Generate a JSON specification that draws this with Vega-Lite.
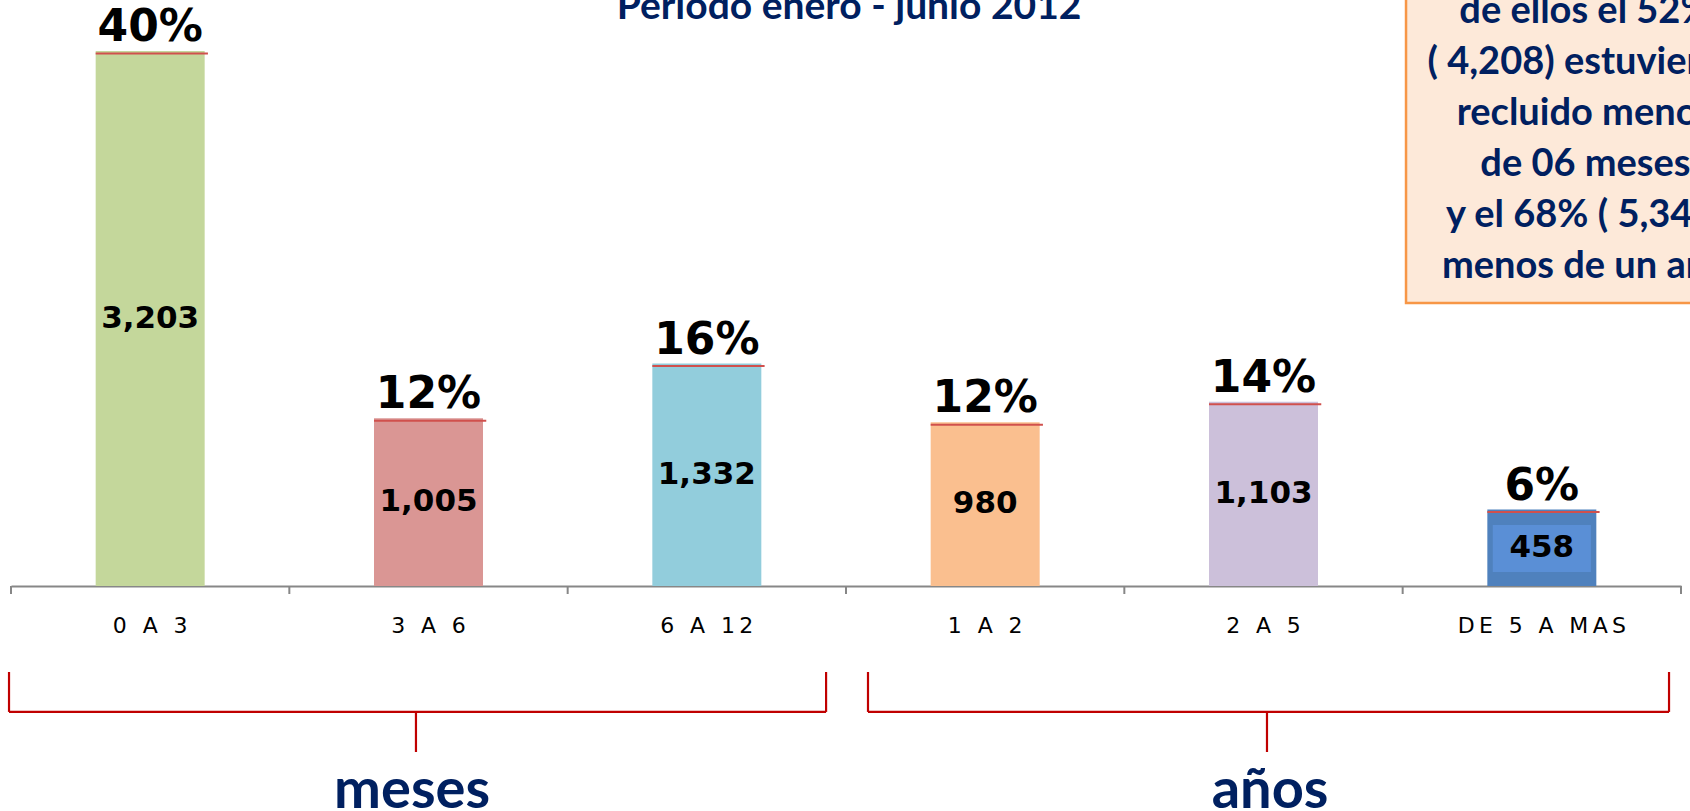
{
  "$schema": "https://vega.github.io/schema/vega-lite/v6.json",
  "width": 1670,
  "height": 586,
  "autosize": {"type": "none"},
  "padding": {"left": 11, "top": 0, "right": 9, "bottom": 225},
  "background": "white",
  "config": {
    "view": {"stroke": null},
    "axisY": {"disable": true},
    "axisX": {"labelAngle": 0, "labelFont": "DejaVu Sans", "labelFontSize": 22, "labelColor": "#000000",
      "labelExpr": "join(split(datum.label, ''), '\u2009')",
      "labelPadding": 29, "ticks": false, "domainColor": "#878787", "domainWidth": 2,
      "grid": false, "titleColor": "transparent", "titleFontSize": 1}
  },
  "data": {"values": [
    {"rango": "0 A 3", "valor": 3203, "porcentaje": 0.40},
    {"rango": "3 A 6", "valor": 1005, "porcentaje": 0.12},
    {"rango": "6 A 12", "valor": 1332, "porcentaje": 0.16},
    {"rango": "1 A 2", "valor": 980, "porcentaje": 0.12},
    {"rango": "2 A 5", "valor": 1103, "porcentaje": 0.14},
    {"rango": "DE 5 A MAS", "valor": 458, "porcentaje": 0.06}
  ]},
  "resolve": {"scale": {"y": "independent"}},
  "layer": [
    {
      "layer": [
        {
          "mark": {"type": "bar"},
          "encoding": {
            "x": {"field": "rango", "type": "nominal", "sort": null, "title": null,
              "scale": {"domain": ["0 A 3", "3 A 6", "6 A 12", "1 A 2", "2 A 5", "DE 5 A MAS"], "paddingInner": 0.6084, "paddingOuter": 0.3042}},
            "y": {"field": "valor", "type": "quantitative", "scale": {"domain": [0, 3509], "nice": false, "zero": true}},
            "color": {"field": "rango", "type": "nominal", "legend": null,
              "scale": {"domain": ["0 A 3", "3 A 6", "6 A 12", "1 A 2", "2 A 5", "DE 5 A MAS"],
                "range": ["#C4D79B", "#DA9694", "#92CDDC", "#FABF8F", "#CCC0DA", "#4F81BD"]}}
          }
        },
        {
          "transform": [{"filter": "datum.rango == 'DE 5 A MAS'"}],
          "mark": {"type": "bar", "color": "#5A8FD6", "width": {"band": 0.9}},
          "encoding": {
            "x": {"field": "rango", "type": "nominal", "sort": null, "title": null},
            "y": {"datum": 365, "type": "quantitative", "scale": {"domain": [0, 3509], "nice": false}},
            "y2": {"datum": 84}
          }
        },
        {
          "mark": {"type": "rule", "color": "#D0504D", "strokeWidth": 2, "yOffset": 2.5},
          "encoding": {
            "x": {"field": "rango", "type": "nominal", "sort": null, "bandPosition": 0, "title": null},
            "x2": {"field": "rango", "bandPosition": 1.03},
            "y": {"field": "valor", "type": "quantitative", "scale": {"domain": [0, 3509], "nice": false}}
          }
        },
        {
          "mark": {"type": "rule", "color": "#878787", "strokeWidth": 2},
          "encoding": {
            "x": {"field": "rango", "type": "nominal", "sort": null, "bandPosition": -0.7768, "title": null},
            "y": {"datum": 0, "type": "quantitative", "scale": {"domain": [0, 3509], "nice": false}},
            "y2": {"datum": -48}
          }
        },
        {
          "mark": {"type": "text", "font": "DejaVu Sans", "fontWeight": "bold", "fontSize": 44, "color": "#000000", "baseline": "alphabetic", "dy": -10},
          "encoding": {
            "x": {"field": "rango", "type": "nominal", "sort": null, "title": null},
            "y": {"field": "valor", "type": "quantitative", "scale": {"domain": [0, 3509], "nice": false}},
            "text": {"field": "porcentaje", "type": "quantitative", "format": ".0%"}
          }
        },
        {
          "data": {"values": [{}]},
          "mark": {"type": "rule", "color": "#878787", "strokeWidth": 2},
          "encoding": {
            "x": {"datum": "DE 5 A MAS", "type": "nominal", "bandPosition": 1.7768, "title": null},
            "y": {"datum": 0, "type": "quantitative", "scale": {"domain": [0, 3509], "nice": false}},
            "y2": {"datum": -48}
          }
        },
        {
          "data": {"values": [{}]},
          "mark": {"type": "rect", "fill": "#FDE9D9", "stroke": "#F79646", "strokeWidth": 2.5},
          "encoding": {
            "x": {"datum": "DE 5 A MAS", "type": "nominal", "bandPosition": -0.746, "title": null},
            "x2": {"datum": "DE 5 A MAS", "bandPosition": 3},
            "y": {"datum": 1695, "type": "quantitative", "scale": {"domain": [0, 3509], "nice": false}},
            "y2": {"datum": 4300}
          }
        },
        {
          "data": {"values": [{}]},
          "mark": {"type": "text", "font": "Lato", "fontWeight": "bold", "fontSize": 38, "lineHeight": 51, "color": "#002060", "align": "center", "baseline": "alphabetic"},
          "encoding": {
            "x": {"datum": "DE 5 A MAS", "type": "nominal", "bandPosition": 0.9, "title": null},
            "y": {"datum": 3371, "type": "quantitative", "scale": {"domain": [0, 3509], "nice": false}},
            "text": {"value": ["de ellos el 52%", "( 4,208) estuvieron", "recluido menos", "de 06 meses", "y el 68% ( 5,345)", "menos de un año"]}
          }
        },
        {
          "data": {"values": [{}]},
          "mark": {"type": "text", "font": "Lato", "fontWeight": "bold", "fontSize": 39, "color": "#002060", "align": "center", "baseline": "alphabetic"},
          "encoding": {
            "x": {"datum": "6 A 12", "type": "nominal", "bandPosition": 1.805, "title": null},
            "y": {"datum": 3395, "type": "quantitative", "scale": {"domain": [0, 3509], "nice": false}},
            "text": {"value": "Periodo  enero - junio 2012"}
          }
        },
        {
          "data": {"values": [{}]},
          "mark": {"type": "rule", "color": "#C00000", "strokeWidth": 2.2},
          "encoding": {
            "x": {"datum": "0 A 3", "type": "nominal", "bandPosition": -0.795, "title": null},
            "y": {"datum": -515, "type": "quantitative", "scale": {"domain": [0, 3509], "nice": false}},
            "y2": {"datum": -754}
          }
        },
        {
          "data": {"values": [{}]},
          "mark": {"type": "rule", "color": "#C00000", "strokeWidth": 2.2},
          "encoding": {
            "x": {"datum": "6 A 12", "type": "nominal", "bandPosition": 1.594, "title": null},
            "y": {"datum": -515, "type": "quantitative", "scale": {"domain": [0, 3509], "nice": false}},
            "y2": {"datum": -754}
          }
        },
        {
          "data": {"values": [{}]},
          "mark": {"type": "rule", "color": "#C00000", "strokeWidth": 2.2},
          "encoding": {
            "x": {"datum": "0 A 3", "type": "nominal", "bandPosition": -0.795, "title": null},
            "x2": {"datum": "6 A 12", "bandPosition": 1.594},
            "y": {"datum": -754, "type": "quantitative", "scale": {"domain": [0, 3509], "nice": false}}
          }
        },
        {
          "data": {"values": [{}]},
          "mark": {"type": "rule", "color": "#C00000", "strokeWidth": 2.2},
          "encoding": {
            "x": {"datum": "3 A 6", "type": "nominal", "bandPosition": 0.385, "title": null},
            "y": {"datum": -754, "type": "quantitative", "scale": {"domain": [0, 3509], "nice": false}},
            "y2": {"datum": -994}
          }
        },
        {
          "data": {"values": [{}]},
          "mark": {"type": "rule", "color": "#C00000", "strokeWidth": 2.2},
          "encoding": {
            "x": {"datum": "1 A 2", "type": "nominal", "bandPosition": -0.575, "title": null},
            "y": {"datum": -515, "type": "quantitative", "scale": {"domain": [0, 3509], "nice": false}},
            "y2": {"datum": -754}
          }
        },
        {
          "data": {"values": [{}]},
          "mark": {"type": "rule", "color": "#C00000", "strokeWidth": 2.2},
          "encoding": {
            "x": {"datum": "DE 5 A MAS", "type": "nominal", "bandPosition": 1.667, "title": null},
            "y": {"datum": -515, "type": "quantitative", "scale": {"domain": [0, 3509], "nice": false}},
            "y2": {"datum": -754}
          }
        },
        {
          "data": {"values": [{}]},
          "mark": {"type": "rule", "color": "#C00000", "strokeWidth": 2.2},
          "encoding": {
            "x": {"datum": "1 A 2", "type": "nominal", "bandPosition": -0.575, "title": null},
            "x2": {"datum": "DE 5 A MAS", "bandPosition": 1.667},
            "y": {"datum": -754, "type": "quantitative", "scale": {"domain": [0, 3509], "nice": false}}
          }
        },
        {
          "data": {"values": [{}]},
          "mark": {"type": "rule", "color": "#C00000", "strokeWidth": 2.2},
          "encoding": {
            "x": {"datum": "2 A 5", "type": "nominal", "bandPosition": 0.532, "title": null},
            "y": {"datum": -754, "type": "quantitative", "scale": {"domain": [0, 3509], "nice": false}},
            "y2": {"datum": -994}
          }
        },
        {
          "data": {"values": [{}]},
          "mark": {"type": "text", "font": "Lato", "fontWeight": "bold", "fontSize": 56, "color": "#002060", "align": "center", "baseline": "alphabetic"},
          "encoding": {
            "x": {"datum": "3 A 6", "type": "nominal", "bandPosition": 0.349, "title": null},
            "y": {"datum": -1329, "type": "quantitative", "scale": {"domain": [0, 3509], "nice": false}},
            "text": {"value": "meses"}
          }
        },
        {
          "data": {"values": [{}]},
          "mark": {"type": "text", "font": "Lato", "fontWeight": "bold", "fontSize": 56, "color": "#002060", "align": "center", "baseline": "alphabetic"},
          "encoding": {
            "x": {"datum": "2 A 5", "type": "nominal", "bandPosition": 0.56, "title": null},
            "y": {"datum": -1329, "type": "quantitative", "scale": {"domain": [0, 3509], "nice": false}},
            "text": {"value": "años"}
          }
        }
      ]
    },
    {
      "mark": {"type": "text", "font": "DejaVu Sans", "fontWeight": "bold", "fontSize": 31, "color": "#000000", "baseline": "middle"},
      "encoding": {
        "x": {"field": "rango", "type": "nominal", "sort": null, "title": null},
        "y": {"field": "valor", "type": "quantitative", "scale": {"domain": [0, 7018], "nice": false, "zero": true}},
        "text": {"field": "valor", "type": "quantitative", "format": ","}
      }
    }
  ]
}
